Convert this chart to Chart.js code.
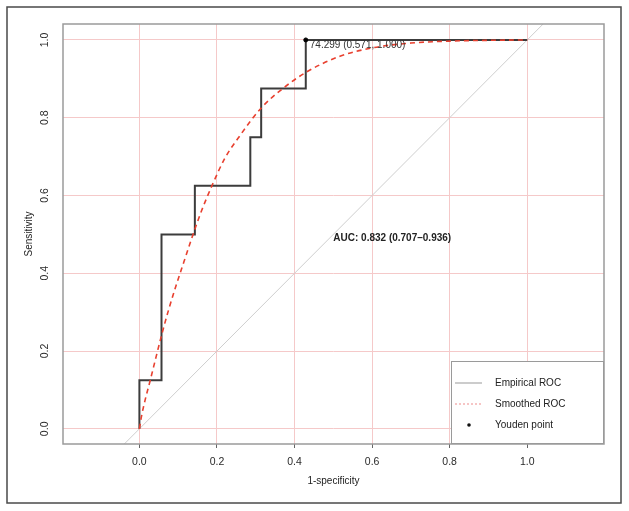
<!DOCTYPE html>
<html>
<head>
<meta charset="utf-8">
<script src="https://cdn.jsdelivr.net/npm/chart.js@4"></script>
<style>
  html, body { margin: 0; padding: 0; background: #fff; }
  canvas { display: block; }
</style>
</head>
<body>
<canvas id="chart" width="629" height="511"></canvas>
<script>
// empirical ROC corners (1-specificity, sensitivity)
const empFpr = [0, 0, 0.057, 0.057, 0.143, 0.143, 0.286, 0.286, 0.314, 0.314, 0.429, 0.429, 1];
const empTpr = [0, 0.125, 0.125, 0.5, 0.5, 0.625, 0.625, 0.75, 0.75, 0.875, 0.875, 1, 1];

// smoothed ROC
const smoothFpr = [0, 0.005, 0.015, 0.028, 0.043, 0.057, 0.075, 0.095, 0.115, 0.135, 0.16, 0.187, 0.22, 0.26, 0.315, 0.371, 0.43, 0.517, 0.603, 0.7, 0.8, 0.9, 1];
const smoothTpr = [0, 0.03, 0.075, 0.125, 0.185, 0.24, 0.305, 0.37, 0.43, 0.49, 0.56, 0.625, 0.695, 0.755, 0.826, 0.876, 0.917, 0.958, 0.98, 0.992, 0.997, 0.999, 1];

// chance line
const diagX = [-0.2, 1.2];

const youdenFpr = [0.429];
const youdenTpr = [1.0];
const youdenLabel = "74.299 (0.571, 1.000)";
const aucLabel = "AUC: 0.832 (0.707\u20130.936)";
const aucPos = [0.5, 0.49];

const xTicks = [0, 0.2, 0.4, 0.6, 0.8, 1.0];
const yTicks = [0, 0.2, 0.4, 0.6, 0.8, 1.0];
const legendLabels = ["Empirical ROC", "Smoothed ROC", "Youden point"];

const FONT = "'Liberation Sans', Arial, sans-serif";
const GRID = "#f5c9c9";

const toPts = (xs, ys) => xs.map((x, i) => ({ x: x, y: ys[i] }));

const framePlugin = {
    id: "frame",
    beforeDraw(chart) {
        const ctx = chart.ctx;
        ctx.save();
        ctx.fillStyle = "#fff";
        ctx.fillRect(0, 0, chart.width, chart.height);
        ctx.strokeStyle = "#4a4a4a";
        ctx.lineWidth = 1.5;
        ctx.strokeRect(7, 7, chart.width - 15, chart.height - 15);
        ctx.restore();
    },
    afterDraw(chart) {
        const ctx = chart.ctx;
        const a = chart.chartArea;
        const xs = chart.scales.x, ys = chart.scales.y;
        ctx.save();

        // box around plot
        ctx.strokeStyle = "#9a9a9a";
        ctx.lineWidth = 1.5;
        ctx.strokeRect(a.left, a.top, a.right - a.left, a.bottom - a.top);

        // youden label
        ctx.fillStyle = "#333";
        ctx.font = "10px " + FONT;
        ctx.textAlign = "left";
        ctx.textBaseline = "middle";
        ctx.fillText(youdenLabel, xs.getPixelForValue(youdenFpr[0]) + 4, ys.getPixelForValue(youdenTpr[0]) + 5.5);

        // auc
        ctx.font = "bold 10px " + FONT;
        ctx.fillStyle = "#222";
        ctx.fillText(aucLabel, xs.getPixelForValue(aucPos[0]), ys.getPixelForValue(aucPos[1]));

        // legend, bottom right
        const lw = 153, lh = 83;
        const lx = a.right - lw, ly = a.bottom - lh;
        ctx.fillStyle = "#fff";
        ctx.fillRect(lx, ly, lw, lh);
        ctx.strokeStyle = "#9a9a9a";
        ctx.lineWidth = 1;
        ctx.strokeRect(lx + 0.5, ly + 0.5, lw - 1, lh - 1);

        const rows = [ly + 22, ly + 43, ly + 64];
        ctx.lineWidth = 1.2;
        ctx.strokeStyle = "#aaa";
        ctx.beginPath(); ctx.moveTo(lx + 4, rows[0]); ctx.lineTo(lx + 31, rows[0]); ctx.stroke();
        ctx.strokeStyle = "#f0a0a0";
        ctx.setLineDash([2, 2]);
        ctx.beginPath(); ctx.moveTo(lx + 4, rows[1]); ctx.lineTo(lx + 31, rows[1]); ctx.stroke();
        ctx.setLineDash([]);
        ctx.fillStyle = "#111";
        ctx.beginPath(); ctx.arc(lx + 18, rows[2], 1.8, 0, Math.PI * 2); ctx.fill();

        ctx.fillStyle = "#222";
        ctx.font = "10px " + FONT;
        legendLabels.forEach((t, i) => ctx.fillText(t, lx + 44, rows[i]));
        ctx.restore();
    }
};

const ctx = document.getElementById("chart").getContext("2d");
new Chart(ctx, {
    type: "scatter",
    data: {
        datasets: [
            {
                label: "Youden point",
                data: toPts(youdenFpr, youdenTpr),
                backgroundColor: "#000",
                borderColor: "#000",
                pointRadius: 2,
                showLine: false,
            },
            {
                label: "Smoothed ROC",
                data: toPts(smoothFpr, smoothTpr),
                borderColor: "#e8402f",
                borderWidth: 1.6,
                borderDash: [5, 4],
                showLine: true,
                pointRadius: 0,
                cubicInterpolationMode: "monotone",
            },
            {
                label: "Empirical ROC",
                data: toPts(empFpr, empTpr),
                borderColor: "#3c3c3c",
                borderWidth: 2,
                showLine: true,
                pointRadius: 0,
                tension: 0,
            },
            {
                label: "Chance",
                data: toPts(diagX, diagX),
                borderColor: "#cfcfcf",
                borderWidth: 1,
                showLine: true,
                pointRadius: 0,
                clip: 0,
            },
        ],
    },
    options: {
        responsive: false,
        animation: false,
        layout: { padding: { left: 0, top: 24, right: 25, bottom: 0 } },
        plugins: {
            legend: { display: false },
            tooltip: { enabled: false },
        },
        scales: {
            x: {
                type: "linear",
                min: -0.197,
                max: 1.198,
                afterBuildTicks: s => { s.ticks = xTicks.map(v => ({ value: v })); },
                afterFit: s => { s.height = 67; },
                grid: { color: GRID, lineWidth: 1, drawTicks: true, tickLength: 4, tickColor: "#666" },
                border: { display: false },
                ticks: { padding: 8, color: "#2a2a2a", font: { family: FONT, size: 10.5 }, callback: v => v.toFixed(1) },
                title: { display: true, text: "1-specificity", color: "#222", font: { family: FONT, size: 10 }, padding: { bottom: 24 } },
            },
            y: {
                type: "linear",
                min: -0.039,
                max: 1.041,
                afterBuildTicks: s => { s.ticks = yTicks.map(v => ({ value: v })); },
                afterFit: s => { s.width = 63; },
                grid: { color: GRID, lineWidth: 1, drawTicks: false },
                border: { display: false },
                ticks: { padding: 11, minRotation: 90, maxRotation: 90, crossAlign: "center", color: "#2a2a2a", font: { family: FONT, size: 10.5 }, callback: v => v.toFixed(1) },
                title: { display: true, text: "Sensitivity", color: "#222", font: { family: FONT, size: 10 }, padding: { top: 23 } },
            },
        },
    },
    plugins: [framePlugin],
});
</script>
</body>
</html>
